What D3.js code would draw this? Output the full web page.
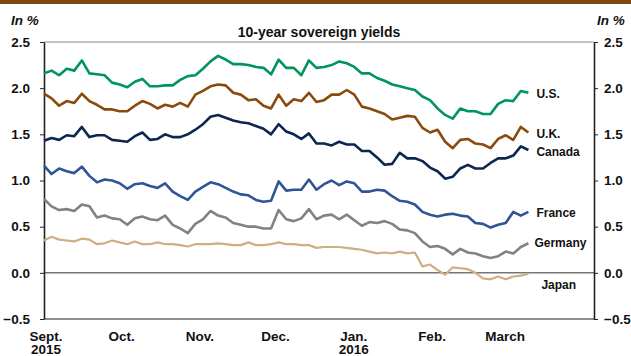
<!DOCTYPE html>
<html>
<head>
<meta charset="utf-8">
<script src="https://cdnjs.cloudflare.com/ajax/libs/d3/7.8.5/d3.min.js"></script>
<style>
  body { margin: 0; background: #fff; }
  text { font-family: "Liberation Sans", Arial, sans-serif; font-weight: bold; fill: #111; }
  .line { fill: none; stroke-width: 2.6px; stroke-linejoin: round; }
  .axis path, .axis line { stroke: #222; }
</style>
</head>
<body>
<svg id="chart" width="631" height="356"></svg>
<script>
// sampled every 3 days starting 1 Sept 2015
var startDate = "2015-09-01";
var stepDays = 3;

var usYields = [2.16,2.19,2.14,2.21,2.19,2.30,2.16,2.15,2.14,2.06,2.04,2.01,2.07,2.10,2.02,2.02,2.03,
  2.03,2.09,2.13,2.14,2.21,2.29,2.35,2.31,2.26,2.26,2.25,2.23,2.22,2.15,2.31,
  2.22,2.22,2.14,2.30,2.22,2.23,2.25,2.29,2.27,2.23,2.16,2.16,2.11,2.08,2.04,2.02,
  2.00,1.98,1.91,1.87,1.78,1.71,1.67,1.78,1.75,1.75,1.72,1.72,1.83,1.87,1.86,1.97,1.95];
var ukYields = [1.94,1.89,1.81,1.86,1.84,1.94,1.86,1.82,1.77,1.77,1.75,1.75,1.81,1.86,1.83,1.78,1.82,
  1.80,1.84,1.80,1.93,1.97,2.02,2.04,2.03,1.95,1.93,1.87,1.88,1.81,1.78,1.93,
  1.81,1.88,1.86,1.95,1.85,1.87,1.93,1.93,1.98,1.93,1.80,1.78,1.75,1.72,1.66,1.68,
  1.70,1.69,1.57,1.52,1.55,1.42,1.35,1.44,1.45,1.40,1.39,1.35,1.45,1.49,1.44,1.58,1.52];
var canadaYields = [1.43,1.46,1.44,1.49,1.48,1.58,1.47,1.49,1.49,1.44,1.43,1.42,1.48,1.52,1.44,1.45,1.50,
  1.47,1.47,1.50,1.55,1.61,1.69,1.71,1.68,1.65,1.63,1.62,1.59,1.56,1.50,1.61,
  1.53,1.50,1.45,1.51,1.40,1.40,1.38,1.42,1.39,1.39,1.32,1.32,1.25,1.17,1.18,1.30,
  1.24,1.24,1.21,1.14,1.10,1.02,1.04,1.13,1.17,1.13,1.13,1.19,1.24,1.24,1.27,1.37,1.33];
var franceYields = [1.16,1.07,1.13,1.10,1.08,1.15,1.05,0.98,1.01,1.00,0.97,0.91,0.96,0.97,0.94,0.92,0.97,
  0.88,0.83,0.79,0.88,0.93,0.98,0.96,0.92,0.88,0.85,0.84,0.79,0.77,0.78,0.99,
  0.89,0.90,0.90,1.01,0.90,0.96,1.00,0.95,0.99,0.97,0.88,0.88,0.90,0.89,0.83,0.78,
  0.77,0.74,0.66,0.63,0.61,0.63,0.64,0.62,0.61,0.54,0.53,0.49,0.52,0.54,0.66,0.62,0.66];
var germanyYields = [0.80,0.72,0.68,0.69,0.67,0.74,0.72,0.60,0.62,0.59,0.58,0.52,0.59,0.61,0.58,0.57,0.62,
  0.52,0.48,0.43,0.53,0.58,0.67,0.62,0.60,0.54,0.52,0.50,0.50,0.48,0.48,0.68,
  0.58,0.56,0.59,0.69,0.58,0.62,0.63,0.58,0.63,0.57,0.51,0.55,0.54,0.56,0.53,0.47,
  0.46,0.43,0.34,0.28,0.29,0.26,0.20,0.26,0.22,0.21,0.18,0.16,0.18,0.23,0.21,0.28,0.32];
var japanYields = [0.35,0.39,0.36,0.35,0.34,0.37,0.36,0.31,0.32,0.35,0.33,0.31,0.34,0.31,0.31,0.33,0.31,
  0.31,0.30,0.285,0.31,0.31,0.31,0.32,0.31,0.30,0.30,0.33,0.30,0.30,0.31,0.33,
  0.31,0.31,0.30,0.30,0.27,0.28,0.28,0.28,0.27,0.26,0.25,0.23,0.21,0.22,0.21,0.23,
  0.21,0.22,0.07,0.09,0.03,-0.02,0.06,0.05,0.04,0.00,-0.06,-0.07,-0.04,-0.07,-0.04,-0.03,-0.01];

var seriesNames = ["U.S.", "U.K.", "Canada", "France", "Germany", "Japan"];
var seriesColors = ["#00955a", "#8a4a0c", "#0d2650", "#2f5596", "#828282", "#cfae80"];
var yTicks = [-0.5, 0, 0.5, 1, 1.5, 2, 2.5];
var monthTicks = ["2015-09-01","2015-10-01","2015-11-01","2015-12-01","2016-01-01","2016-02-01","2016-03-01"];
var monthLabels = [["Sept.","2015"],["Oct."],["Nov."],["Dec."],["Jan.","2016"],["Feb."],["March"]];

var allValues = [usYields, ukYields, canadaYields, franceYields, germanyYields, japanYields];
// label nudges (x, y) beside line ends
var labelNudge = [[8,1],[8,1],[8,2],[8,1],[6,0],[13,11]];

var svg = d3.select("svg");
var parse = d3.timeParse("%Y-%m-%d");
var t0 = parse(startDate);

var x = d3.scaleTime()
    .domain([t0, parse("2016-04-06")])
    .range([44, 594]);
var y = d3.scaleLinear().domain([-0.5, 2.5]).range([319, 42]);

// brown band at top
svg.append("rect").attr("x", 0).attr("y", 0).attr("width", 631).attr("height", 4).attr("fill", "#7d4711");

// frame lines
svg.append("line").attr("x1", x.range()[0]).attr("x2", x.range()[1])
    .attr("y1", y(2.5)).attr("y2", y(2.5)).attr("stroke", "#888").attr("stroke-width", 1);
svg.append("line").attr("x1", x.range()[0]).attr("x2", x.range()[1])
    .attr("y1", y(-0.5)).attr("y2", y(-0.5)).attr("stroke", "#222").attr("stroke-width", 1.2);
svg.append("line").attr("x1", x.range()[0]).attr("x2", x.range()[1])
    .attr("y1", y(0)).attr("y2", y(0)).attr("stroke", "#333").attr("stroke-width", 1);

var fmt = d3.format(".1f");
svg.append("g").attr("class", "axis")
    .attr("transform", "translate(44,0)")
    .call(d3.axisLeft(y).tickValues(yTicks).tickFormat(fmt).tickSize(4).tickSizeOuter(0).tickPadding(10));
svg.append("g").attr("class", "axis")
    .attr("transform", "translate(594,0)")
    .call(d3.axisRight(y).tickValues(yTicks).tickFormat(fmt).tickSize(4).tickSizeOuter(0).tickPadding(6));
svg.selectAll(".axis path").attr("stroke-width", 1.6);
svg.selectAll(".axis text").style("font-size", "13.5px").style("font-family", "'Liberation Sans', Arial, sans-serif").style("font-weight", "bold");

// month labels
var xAxis = svg.append("g").attr("transform", "translate(0,319)");
monthTicks.forEach(function(m, i) {
  var t = xAxis.append("text")
      .attr("x", x(parse(m)) + 2)
      .attr("y", 22)
      .attr("text-anchor", "middle")
      .style("font-size", "13.5px");
  monthLabels[i].forEach(function(s, j) {
    t.append("tspan").attr("x", x(parse(m)) + 2).attr("dy", j ? 13 : 0).text(s);
  });
});

// unit labels and title
svg.append("text").attr("x", 11).attr("y", 25).style("font-size", "13.5px").style("font-style", "italic").text("In %");
svg.append("text").attr("x", 597).attr("y", 25).style("font-size", "13.5px").style("font-style", "italic").text("In %");
svg.append("text").attr("x", 319).attr("y", 37).attr("text-anchor", "middle").style("font-size", "14px").text("10-year sovereign yields");

var line = d3.line()
    .x(function(d) { return x(d.date); })
    .y(function(d) { return y(d.value); });

var series = seriesNames.map(function(name, k) {
  return {
    name: name,
    color: seriesColors[k],
    values: allValues[k].map(function(v, i) { return { date: d3.timeDay.offset(t0, i * stepDays), value: v }; })
  };
});

// draw Japan first so the others sit on top
svg.selectAll(".series")
    .data(series.slice().reverse())
  .enter().append("path")
    .attr("class", "line")
    .attr("d", function(d) { return line(d.values); })
    .style("stroke", function(d) { return d.color; })
    .style("stroke-width", function(d) { return d.name === "Japan" ? "2.2px" : "2.6px"; });

svg.selectAll(".label")
    .data(series)
  .enter().append("text")
    .attr("x", function(d, i) { var last = d.values[d.values.length - 1]; return x(last.date) + labelNudge[i][0]; })
    .attr("y", function(d, i) { var last = d.values[d.values.length - 1]; return y(last.value) + labelNudge[i][1]; })
    .attr("dy", "0.35em")
    .style("font-size", "12px")
    .text(function(d) { return d.name; });
</script>
</body>
</html>
